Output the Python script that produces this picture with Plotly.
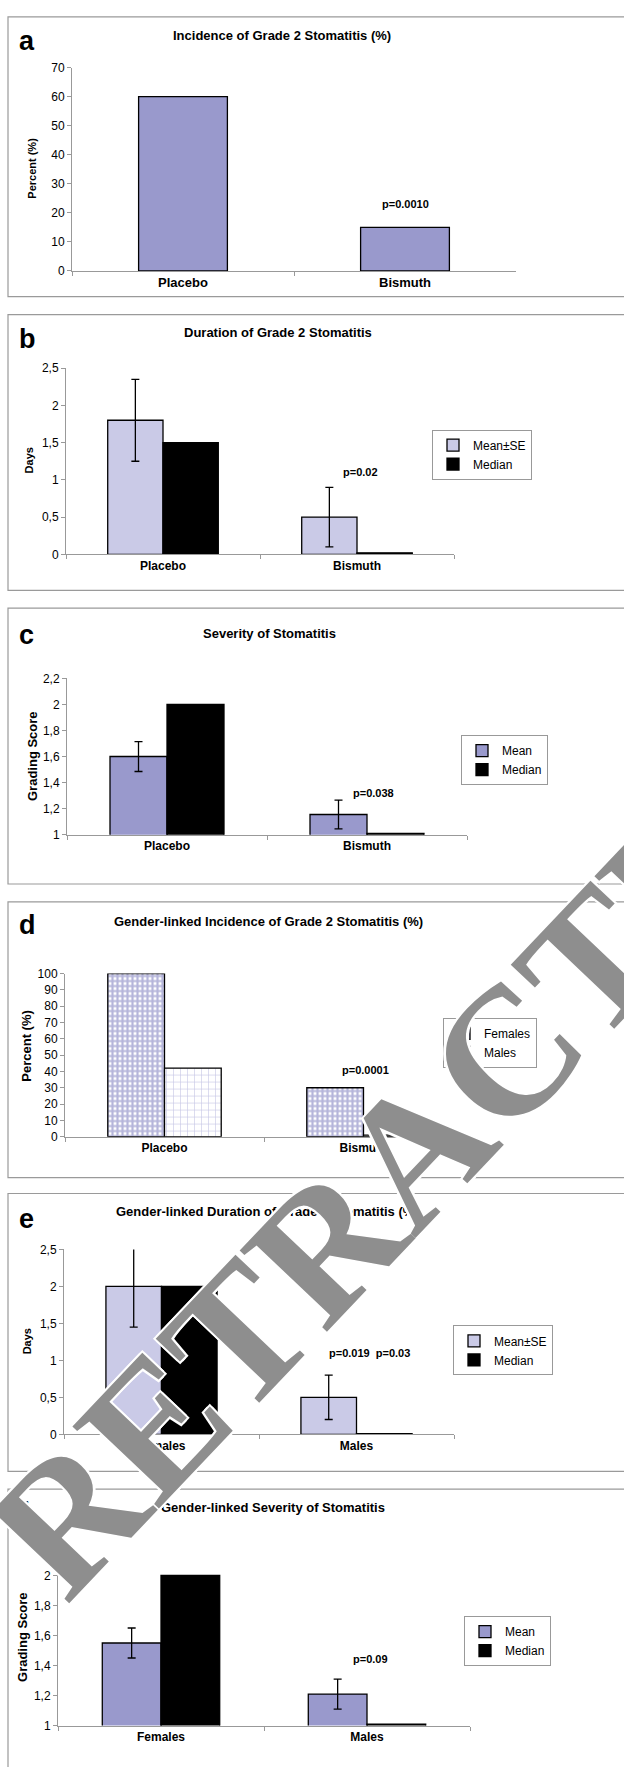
import plotly.graph_objects as go

# ---------------- data ----------------
groups_treat = ["Placebo", "Bismuth"]
groups_sex = ["Females", "Males"]

a_incidence = [60, 15]

b_mean = [1.8, 0.5]
b_se = [0.55, 0.4]
b_median = [1.5, 0.02]

c_mean = [1.6, 1.155]
c_se = [0.115, 0.11]
c_median = [2.0, 1.01]

d_females = [100, 30]
d_males = [42, 1]

e_mean = [2.0, 0.5]
e_se = [0.55, 0.3]
e_median = [2.0, 0.01]

f_mean = [1.55, 1.21]
f_se = [0.1, 0.1]
f_median = [2.0, 1.01]

ticks_pct70 = [0, 10, 20, 30, 40, 50, 60, 70]
ticks_pct100 = [0, 10, 20, 30, 40, 50, 60, 70, 80, 90, 100]
ticks_days = [0, 0.5, 1, 1.5, 2, 2.5]
labels_days = ["0", "0,5", "1", "1,5", "2", "2,5"]
ticks_score = [1, 1.2, 1.4, 1.6, 1.8, 2, 2.2]
labels_score = ["1", "1,2", "1,4", "1,6", "1,8", "2", "2,2"]

titles = ["Incidence of Grade 2 Stomatitis (%)",
          "Duration of Grade 2 Stomatitis",
          "Severity of Stomatitis",
          "Gender-linked Incidence of Grade 2 Stomatitis (%)",
          "Gender-linked Duration of Grade 2 Stomatitis (%)",
          "Gender-linked Severity of Stomatitis"]
letters = ["a", "b", "c", "d", "e", "f"]

# ---------------- layout geometry (page pixels) ----------------
W, H = 624, 1767
SANS = "Liberation Sans, Arial, sans-serif"

def dx(p):
    return p / W

def dy(p):
    return 1 - p / H

# plot areas: (x_left, x_right, y_top, y_bottom)
areas = [(72, 516, 61, 266),
         (66, 454, 364, 551.7),
         (67, 467, 676.7, 834.3),
         (65, 463, 974.3, 1138.7),
         (64, 454, 1252.3, 1438.7),
         (58, 470, 1550.7, 1732.3)]
boxes = [(10, 292), (310, 588), (606, 884), (902, 1180), (1196, 1476), (1494, 1790)]
title_pos = [(282, 29), (278, 328), (269, 632), (268, 922), (267, 1214), (273, 1512)]
letter_y = [34, 335, 633, 925, 1222, 1517]

LAV = "#9999CC"
LIGHT = "#CACAE7"
EDGE = dict(color="black", width=1.3)
ERR = dict(type="data", color="black", thickness=1.3, width=4)

fig = go.Figure()

# (a)
fig.add_trace(go.Bar(x=groups_treat, y=a_incidence, width=0.4, marker=dict(color=LAV, line=EDGE),
                     xaxis="x", yaxis="y", showlegend=False))
# (b)
fig.add_trace(go.Bar(x=groups_treat, y=b_mean, width=0.285, offset=-0.285, name="Mean±SE",
                     error_y=dict(ERR, array=b_se), marker=dict(color=LIGHT, line=EDGE),
                     xaxis="x2", yaxis="y2", legend="legend"))
fig.add_trace(go.Bar(x=groups_treat, y=b_median, width=0.285, offset=0, name="Median",
                     marker=dict(color="black", line=EDGE), xaxis="x2", yaxis="y2", legend="legend"))
# (c)
fig.add_trace(go.Bar(x=groups_treat, y=c_mean, width=0.285, offset=-0.285, name="Mean",
                     error_y=dict(ERR, array=c_se), marker=dict(color=LAV, line=EDGE),
                     xaxis="x3", yaxis="y3", legend="legend2"))
fig.add_trace(go.Bar(x=groups_treat, y=c_median, width=0.285, offset=0, name="Median",
                     marker=dict(color="black", line=EDGE), xaxis="x3", yaxis="y3", legend="legend2"))
# (d)
fig.add_trace(go.Bar(x=groups_treat, y=d_females, width=0.285, offset=-0.285, name="Females",
                     marker=dict(color="white", line=EDGE,
                                 pattern=dict(shape="+", fgcolor="#6C6CB6", bgcolor="white",
                                              size=5, solidity=0.68)),
                     xaxis="x4", yaxis="y4", legend="legend3"))
fig.add_trace(go.Bar(x=groups_treat, y=d_males, width=0.285, offset=0, name="Males",
                     marker=dict(color="white", line=EDGE,
                                 pattern=dict(shape="+", fgcolor="#8E8ECB", bgcolor="white",
                                              size=7, solidity=0.17)),
                     xaxis="x4", yaxis="y4", legend="legend3"))
# (e)
fig.add_trace(go.Bar(x=groups_sex, y=e_mean, width=0.285, offset=-0.285, name="Mean±SE",
                     error_y=dict(ERR, array=e_se), marker=dict(color=LIGHT, line=EDGE),
                     xaxis="x5", yaxis="y5", legend="legend4"))
fig.add_trace(go.Bar(x=groups_sex, y=e_median, width=0.285, offset=0, name="Median",
                     marker=dict(color="black", line=EDGE), xaxis="x5", yaxis="y5", legend="legend4"))
# (f)
fig.add_trace(go.Bar(x=groups_sex, y=f_mean, width=0.285, offset=-0.285, name="Mean",
                     error_y=dict(ERR, array=f_se), marker=dict(color=LAV, line=EDGE),
                     xaxis="x6", yaxis="y6", legend="legend5"))
fig.add_trace(go.Bar(x=groups_sex, y=f_median, width=0.285, offset=0, name="Median",
                     marker=dict(color="black", line=EDGE), xaxis="x6", yaxis="y6", legend="legend5"))

# ---------------- axes ----------------
y_specs = [(ticks_pct70, [str(v) for v in ticks_pct70], [0, 70]),
           (ticks_days, labels_days, [0, 2.5]),
           (ticks_score, labels_score, [1, 2.2]),
           (ticks_pct100, [str(v) for v in ticks_pct100], [0, 100]),
           (ticks_days, labels_days, [0, 2.5]),
           (ticks_score, labels_score, [1, 2.2])]
cats = [groups_treat] * 4 + [groups_sex] * 2
xlab_size = [13, 12, 12, 12, 12, 12]

layout = {}
for i in range(6):
    xl, xr, yt, yb = areas[i]
    sfx = "" if i == 0 else str(i + 1)
    tv, tt, rng = y_specs[i]
    layout["xaxis" + sfx] = dict(domain=[dx(xl), dx(xr)], anchor="y" + sfx, type="category",
                                 categoryorder="array", categoryarray=cats[i], range=[-0.5, 1.5],
                                 showline=True, linecolor="#999999", linewidth=1,
                                 ticks="outside", tickson="boundaries", ticklen=4, tickcolor="#999999",
                                 showgrid=False, zeroline=False, fixedrange=True,
                                 tickfont=dict(family=SANS, size=xlab_size[i], color="black", weight="bold"))
    layout["yaxis" + sfx] = dict(domain=[dy(yb), dy(yt)], anchor="x" + sfx, range=rng,
                                 tickvals=tv, ticktext=tt, showline=True, linecolor="#999999", linewidth=1,
                                 ticks="outside", ticklen=4, tickcolor="#999999", showgrid=False,
                                 zeroline=False, fixedrange=True,
                                 tickfont=dict(family=SANS, size=12, color="black"))

def legend_at(px, py):
    return dict(x=dx(px), y=dy(py), xanchor="left", yanchor="top", xref="paper", yref="paper",
                bgcolor="white", bordercolor="#999999", borderwidth=1, tracegroupgap=0,
                font=dict(family=SANS, size=12, color="black"), itemwidth=30)

layout["legend"] = legend_at(432, 426)
layout["legend2"] = legend_at(461, 734)
layout["legend3"] = legend_at(443, 1019)
layout["legend4"] = legend_at(453, 1329)
layout["legend5"] = legend_at(464, 1622)

fig.update_layout(width=W, height=H, margin=dict(l=0, r=0, t=0, b=0),
                  paper_bgcolor="white", plot_bgcolor="white", barmode="group", **layout)

# panel frames
for (t, b) in boxes:
    fig.add_shape(type="rect", xref="paper", yref="paper", x0=dx(8), x1=dx(640), y0=dy(b), y1=dy(t),
                  line=dict(color="#9a9a9a", width=1.2), fillcolor="rgba(0,0,0,0)", layer="below")

ann = []
for i in range(6):
    tx, ty = title_pos[i]
    ann.append(dict(text=titles[i], x=dx(tx), y=dy(ty), xref="paper", yref="paper", showarrow=False,
                    xanchor="center", yanchor="middle",
                    font=dict(family=SANS, size=13, color="black", weight="bold")))
    ann.append(dict(text=letters[i], x=dx(17), y=dy(letter_y[i]), xref="paper", yref="paper",
                    showarrow=False, xanchor="left", yanchor="middle",
                    font=dict(family=SANS, size=27, color="black", weight="bold")))

# y-axis titles
ytitles = [("Percent (%)", 32, 163, 11), ("Days", 29, 457, 11), ("Grading Score", 32, 755, 13),
           ("Percent (%)", 27, 1047, 13), ("Days", 27, 1345, 11), ("Grading Score", 23, 1643, 13)]
for (t, px, py, fs) in ytitles:
    ann.append(dict(text=t, x=dx(px), y=dy(py), xref="paper", yref="paper", showarrow=False,
                    textangle=-90, xanchor="center", yanchor="middle",
                    font=dict(family=SANS, size=fs, color="black", weight="bold")))

# p-values (data coordinates)
pvals = [("p=0.0010", "x", "y", 1, 23, 0),
         ("p=0.02", "x2", "y2", 1, 1.1, 3),
         ("p=0.038", "x3", "y3", 1, 1.317, 6),
         ("p=0.0001", "x4", "y4", 0, 110, 2),
         ("p=0.0001", "x4", "y4", 1, 41, 2),
         ("p=0.019  p=0.03", "x5", "y5", 1, 1.1, 13),
         ("p=0.09", "x6", "y6", 1, 1.445, 3)]
for (t, xr_, yr_, xv, yv, sh) in pvals:
    ann.append(dict(text=t, x=xv, y=yv, xref=xr_, yref=yr_, showarrow=False, xshift=sh,
                    xanchor="center", yanchor="middle",
                    font=dict(family=SANS, size=11, color="black", weight="bold")))

# RETRACTED watermark
ann.append(dict(text="RETRACTED", x=dx(415), y=dy(1152), xref="paper", yref="paper", showarrow=False,
                textangle=-46.5, xanchor="center", yanchor="middle",
                font=dict(family="Liberation Serif, Times New Roman, serif", size=182, color="#8E8E8E",
                          weight="bold",
                          shadow="2px 2px 0 #fff, -2px -2px 0 #fff, 2px -2px 0 #fff, -2px 2px 0 #fff")))

fig.update_layout(annotations=ann)
fig.write_html("out.html", config={"displayModeBar": False},
               post_script="document.documentElement.style.overflow='hidden';"
                           "document.body.style.margin='0';document.body.style.overflow='hidden';")
